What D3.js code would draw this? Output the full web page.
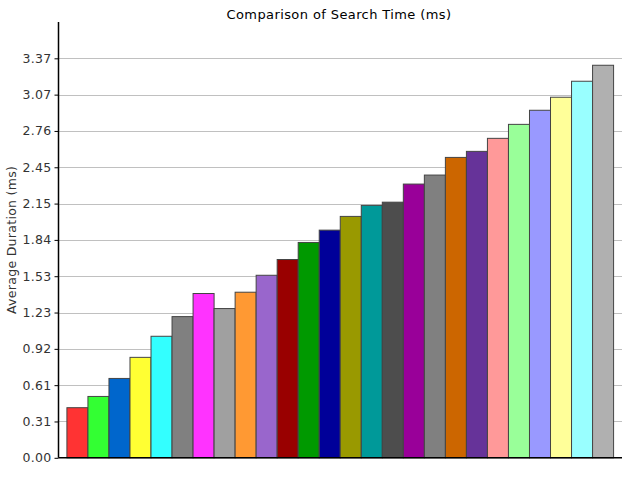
<!DOCTYPE html>
<html>
<head>
<meta charset="utf-8">
<script src="https://cdn.jsdelivr.net/npm/d3@7"></script>
<style>
  body { margin: 0; background: #fff; }
  text { font-family: "DejaVu Sans", sans-serif; }
</style>
</head>
<body>
<div id="chart"></div>
<script>
var categories = ['A1','A2','A3','A4','A5','A6','A7','A8','A9','A10','A11','A12','A13',
                  'A14','A15','A16','A17','A18','A19','A20','A21','A22','A23','A24','A25','A26'];
var durations = [0.423, 0.518, 0.670, 0.848, 1.026, 1.192, 1.387, 1.260, 1.398, 1.541, 1.674, 1.818, 1.922,
                 2.038, 2.131, 2.158, 2.311, 2.387, 2.536, 2.587, 2.697, 2.815, 2.934, 3.044, 3.179, 3.314];
var barColors = ['#ff3333','#33ff33','#0066cc','#ffff33','#33ffff','#808080','#ff33ff','#a0a0a0','#ff9933',
                 '#9966cc','#990000','#009900','#000099','#999900','#009999','#4d4d4d','#990099','#808080',
                 '#cc6600','#663399','#ff9999','#99ff99','#9999ff','#ffff99','#99ffff','#b0b0b0'];
var tickValues = [0, 0.3066, 0.6132, 0.9198, 1.2264, 1.533, 1.8396, 2.1462, 2.4528, 2.7594, 3.066, 3.3726];
var yMax = 3.6792;

var width = 640, height = 480;
var margin = {top: 22, right: 18, bottom: 22, left: 58.5};

var svg = d3.select('#chart').append('svg')
    .attr('width', width)
    .attr('height', height);

var x = d3.scaleBand()
    .domain(categories)
    .range([margin.left, width - margin.right])
    .paddingInner(0)
    .paddingOuter(0.4);

var y = d3.scaleLinear()
    .domain([0, yMax])
    .range([height - margin.bottom - 0.2, margin.top]);

// gridlines
svg.append('g')
   .selectAll('line')
   .data(tickValues.slice(1))
   .enter()
   .append('line')
   .attr('x1', margin.left)
   .attr('x2', width - margin.right)
   .attr('y1', function (d) { return Math.round(y(d)) + 0.5; })
   .attr('y2', function (d) { return Math.round(y(d)) + 0.5; })
   .attr('stroke', '#c0c0c0')
   .attr('stroke-width', 1);

// bars
svg.append('g')
   .selectAll('rect')
   .data(durations)
   .enter()
   .append('rect')
   .attr('x', function (d, i) { return x(categories[i]); })
   .attr('y', function (d) { return y(d); })
   .attr('width', x.bandwidth())
   .attr('height', function (d) { return y(0) - y(d); })
   .attr('fill', function (d, i) { return barColors[i]; })
   .attr('stroke', '#444444')
   .attr('stroke-width', 1);

// y axis
var yAxis = d3.axisLeft(y)
    .tickValues(tickValues)
    .tickFormat(d3.format('.2f'))
    .tickSize(4)
    .tickPadding(3);

var gy = svg.append('g')
   .attr('transform', 'translate(' + margin.left + ',0)')
   .call(yAxis);
gy.select('.domain').remove();
gy.selectAll('.tick line').attr('stroke', '#000');
gy.selectAll('.tick text')
  .attr('font-family', '"DejaVu Sans", sans-serif')
  .attr('font-size', 12.5)
  .attr('letter-spacing', 0.3)
  .attr('fill', '#333');

// axis lines
svg.append('line')
   .attr('x1', margin.left).attr('x2', margin.left)
   .attr('y1', margin.top).attr('y2', y(0))
   .attr('stroke', '#000').attr('stroke-width', 1.5);
svg.append('line')
   .attr('x1', margin.left).attr('x2', width - margin.right)
   .attr('y1', y(0)).attr('y2', y(0))
   .attr('stroke', '#000').attr('stroke-width', 1.5);

// title
svg.append('text')
   .attr('x', 339)
   .attr('y', 19)
   .attr('text-anchor', 'middle')
   .attr('font-size', 13)
   .attr('letter-spacing', 0.4)
   .attr('fill', '#000')
   .text('Comparison of Search Time (ms)');

// y axis label
svg.append('text')
   .attr('transform', 'translate(16,' + ((margin.top + y(0)) / 2) + ') rotate(-90)')
   .attr('text-anchor', 'middle')
   .attr('font-size', 12.5)
   .attr('letter-spacing', 0.3)
   .attr('fill', '#333')
   .text('Average Duration (ms)');
</script>
</body>
</html>
